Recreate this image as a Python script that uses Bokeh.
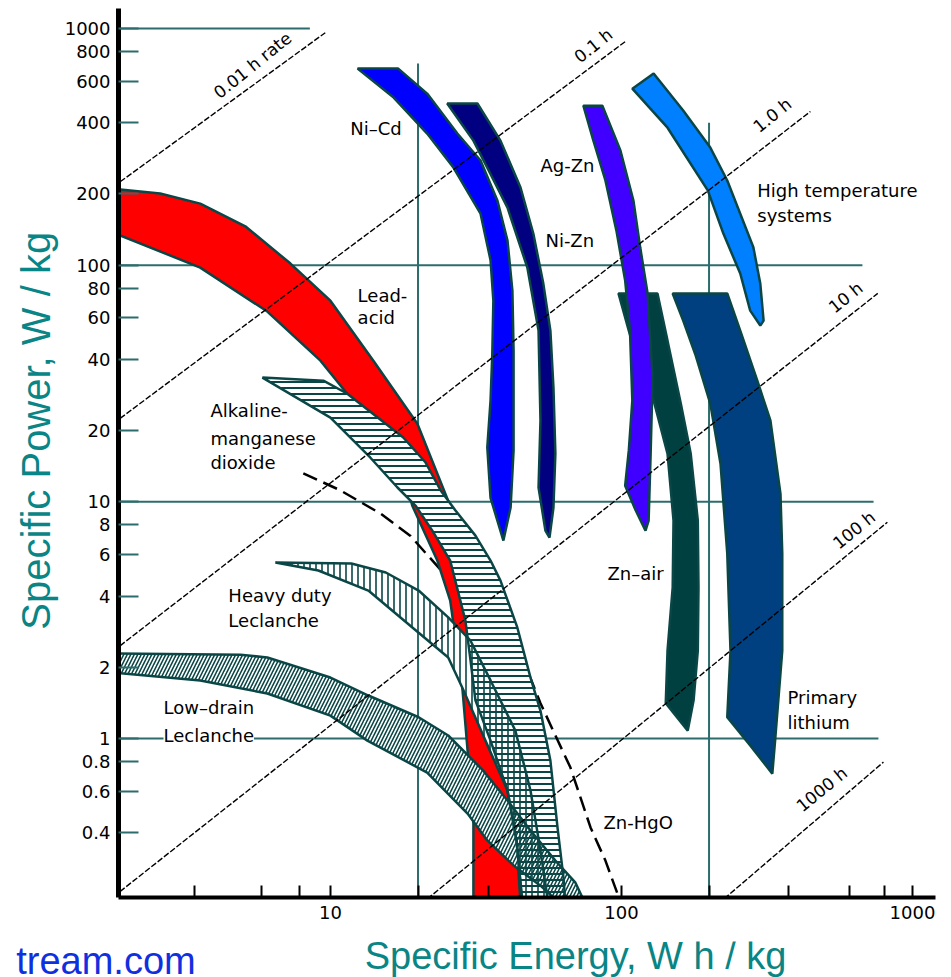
from bokeh.plotting import figure
from bokeh.layouts import column
from bokeh.models import Range1d, FixedTicker, CustomJSTickFormatter, Label, ColumnDataSource
from bokeh.core.properties import value
from bokeh.embed import file_html
from bokeh.resources import INLINE

# ---------------- axis ticks ----------------
y_ticks = [0.4, 0.6, 0.8, 1, 2, 4, 6, 8, 10, 20, 40, 60, 80, 100, 200, 400, 600, 800, 1000]
x_ticks = [3.4, 5.8, 7.8, 10, 20, 35, 100, 200, 375, 610, 800, 1000]
x_tick_labels = [10, 100, 1000]

# ---------------- bands: specific energy (Wh/kg), specific power (W/kg) ----------------
lead_acid_E = [1.8, 2.60, 3.57, 5.10, 7.29, 10.0, 14.05, 19.9, 25.4, 29.1, 32.8, 36.0, 40.6, 43.6, 45.0,
               31.0, 31.0, 29.8, 28.4, 25.8, 23.3, 19.1, 17.4, 14.85, 11.4, 9.24, 6.07, 3.57, 1.8]
lead_acid_P = [210, 201, 182, 146, 101.6, 70.8, 39.5, 21.4, 10.1, 5.65, 2.59, 1.11, 0.603, 0.371, 0.2,
               0.2, 0.4375, 0.807, 1.64, 3.83, 5.65, 9.65, 14.9, 21.0, 28.7, 39.5, 63.7, 97.7, 137]

alkaline_E = [5.84, 9.46, 11.4, 17.8, 21.2, 23.9, 26.9, 31.5, 35.5, 38.4, 43.9, 48.7, 52.7, 57.0, 60.3, 63.2, 64.2,
              45.7, 43.6, 40.6, 35.5, 31.5, 30.3, 29.1, 25.8, 22.4, 19.6, 17.0, 13.7, 10.0]
alkaline_P = [33.5, 32.5, 28.7, 18.7, 14.7, 11.2, 9.19, 7.20, 5.65, 4.65, 2.94, 1.81, 1.31, 0.807, 0.421, 0.259, 0.2,
              0.2, 0.371, 0.603, 0.98, 1.45, 2.14, 3.15, 5.65, 7.56, 9.65, 11.5, 15.4, 22.7]

heavy_E = [6.47, 11.8, 15.5, 20.1, 25.4, 30.3, 35.5, 43.2, 48.7, 52.7, 56.1,
           45.7, 43.6, 40.6, 34.1, 28.4, 25.4, 20.1, 13.5, 9.09]
heavy_P = [5.54, 5.49, 5.03, 4.22, 3.25, 2.59, 1.76, 1.08, 0.603, 0.336, 0.2,
           0.2, 0.371, 0.603, 0.98, 1.64, 2.20, 2.80, 4.22, 5.13]

lowdrain_E = [1.8, 4.91, 6.07, 10.0, 13.5, 20.1, 25.4, 33.5, 40.6, 48.7, 59.3, 69.5, 75.2,
              61.7, 52.7, 42.6, 34.6, 29.6, 21.5, 13.4, 10.0, 6.07, 3.57, 1.8]
lowdrain_P = [2.29, 2.26, 2.20, 1.81, 1.52, 1.23, 1.03, 0.732, 0.547, 0.409, 0.305, 0.246, 0.2,
              0.2, 0.239, 0.291, 0.371, 0.482, 0.718, 0.98, 1.25, 1.55, 1.76, 1.90]

nicd_E = [12.4, 17.1, 21.5, 27.3, 32.8, 37.5, 40.6, 42.2, 42.6, 42.6, 41.6, 39.3,
          35.5, 34.6, 35.5, 36.0, 36.3, 35.5, 32.8, 26.5, 21.5, 16.5]
nicd_P = [677, 677, 531, 360, 277, 187, 127, 78.1, 43.6, 16.5, 9.46, 6.86,
          10.4, 17.0, 26.8, 42.3, 70.8, 105, 165, 258, 360, 511]

nizn_E = [25.2, 32.0, 38.4, 45.0, 49.8, 53.9, 57.0, 58.4, 59.3, 58.4, 56.6,
          54.8, 51.9, 52.7, 51.9, 47.5, 40.6, 34.6, 31.0]
nizn_P = [482, 482, 336, 213, 136, 83.6, 52.9, 30.4, 16.0, 9.46, 7.07,
          7.56, 11.5, 22.1, 52.9, 97.7, 175, 258, 336]

agzn_E = [74.0, 86.0, 99.2, 110, 116, 123, 128, 126, 124, 121,
          112, 103, 106, 109, 107, 103, 96.1, 88.1, 80.1]
agzn_P = [472, 472, 305, 187, 119, 75.9, 33.5, 16.0, 8.34, 7.56,
          9.19, 11.7, 16.5, 26.8, 52.9, 86.1, 140, 228, 336]

hightemp_E = [109, 129, 163, 202, 231, 256, 284, 300, 308, 300, 277, 256, 224, 198, 144]
hightemp_P = [557, 645, 450, 314, 228, 165, 119, 83.6, 58.3, 55.6, 64.3, 92.2, 136, 207, 381]

znair_E = [97.7, 133, 144, 160, 173, 183, 184, 183, 177, 169,
           142, 144, 150, 151, 144, 129, 116, 106]
znair_P = [75.9, 75.9, 48.0, 26.0, 16.0, 8.34, 4.34, 2.35, 1.45, 1.08,
           1.41, 2.35, 4.34, 8.34, 16.0, 26.8, 35.9, 52.9]

lithium_E = [150, 231, 256, 293, 325, 352, 357, 357, 346, 338, 330,
             277, 231, 237, 231, 219, 202, 180, 163]
lithium_P = [75.9, 75.9, 52.9, 32.5, 22.1, 10.8, 6.05, 2.35, 1.45, 1.01, 0.711,
             0.934, 1.23, 2.35, 6.05, 14.5, 26.0, 41.5, 58.3]

znhgo_E = [8.07, 10.8, 14.85, 18.8, 25.8, 38.4, 46.8, 52.7, 59.3, 66.8, 78.3, 88.1, 96.9]
znhgo_P = [13.2, 11.2, 8.93, 7.20, 4.65, 2.72, 2.03, 1.41, 1.03, 0.754, 0.421, 0.305, 0.221]

# ---------------- reference lines ----------------
hgrid_P = [1000, 100, 10, 1]
hgrid_E0 = [1.8, 1.8, 1.8, 1.8]
hgrid_E1 = [8.5, 673, 735, 764]
vgrid_E = [20, 200]
vgrid_P0 = [0.2, 0.2]
vgrid_P1 = [711, 400]

rate_labels = ["0.01 h rate", "0.1 h", "1.0 h", "10 h", "100 h", "1000 h"]
rate_E0 = [1.8, 1.8, 1.8, 1.8, 20.5, 215]
rate_P0 = [215, 21.5, 2.35, 0.215, 0.2, 0.2]
rate_E1 = [9.6, 103, 446, 760, 820, 795]
rate_P1 = [960, 880, 446, 76, 8.2, 0.795]
rate_label_E = [5.4, 80.1, 330, 590, 630, 488]
rate_label_P = [700, 847, 430, 73, 7.6, 0.61]

band_texts = ["Ni–Cd", "Ag-Zn", "Ni-Zn", "Lead-", "acid", "High temperature", "systems",
              "Alkaline-", "manganese", "dioxide", "Heavy duty", "Leclanche", "Low–drain",
              "Zn–air", "Primary", "lithium", "Zn-HgO"]
band_text_E = [11.7, 52.7, 54.8, 12.4, 12.4, 293, 293, 3.87, 3.87, 3.87, 4.46, 4.46, 2.67,
               89.5, 372, 372, 86.8]
band_text_P = [378, 264, 127, 74.4, 60.1, 207, 162, 24.3, 18.5, 14.7, 4.02, 3.15, 1.35,
               4.98, 1.49, 1.17, 0.442]

x_title = "Specific Energy, W h / kg"
y_title = "Specific Power, W / kg"
footer_text = "tream.com"

OUT = "#0b4646"
GRID = "#2c6c6c"
TEAL = "#0a8585"

p = figure(width=943, height=941, x_axis_type="log", y_axis_type="log",
           x_range=Range1d(1.87, 1200), y_range=Range1d(0.213, 1215),
           output_backend="svg", toolbar_location=None,
           min_border_left=118, min_border_right=8, min_border_top=8, min_border_bottom=44)
p.outline_line_color = None
p.xgrid.visible = False
p.ygrid.visible = False

# axes
p.yaxis.ticker = FixedTicker(ticks=y_ticks)
p.yaxis.formatter = CustomJSTickFormatter(code="return String(tick)")
p.yaxis.major_tick_in = 20
p.yaxis.major_tick_out = 0
p.yaxis.major_tick_line_color = GRID
p.yaxis.major_tick_line_width = 2
p.yaxis.minor_tick_line_color = None
p.yaxis.axis_line_width = 5
p.yaxis.axis_line_color = "black"
p.yaxis.major_label_text_font = "DejaVu Sans"
p.yaxis.major_label_text_font_size = "18px"
p.yaxis.major_label_text_color = "black"
p.yaxis.major_label_standoff = 8
p.yaxis.axis_label = "\u00a0\u00a0\u00a0\u00a0" + y_title
p.yaxis.axis_label_text_font = "Liberation Sans"
p.yaxis.axis_label_text_font_size = "40px"
p.yaxis.axis_label_text_font_style = "normal"
p.yaxis.axis_label_text_color = TEAL
p.yaxis.axis_label_standoff = 4

p.xaxis.ticker = FixedTicker(ticks=x_ticks)
p.xaxis.formatter = CustomJSTickFormatter(args=dict(show=x_tick_labels),
                                          code="return show.includes(tick) ? String(tick) : ''")
p.xaxis.major_tick_in = 12
p.xaxis.major_tick_out = 0
p.xaxis.major_tick_line_color = "black"
p.xaxis.major_tick_line_width = 2
p.xaxis.minor_tick_line_color = None
p.xaxis.axis_line_width = 4
p.xaxis.axis_line_color = "black"
p.xaxis.major_label_text_font = "DejaVu Sans"
p.xaxis.major_label_text_font_size = "18px"
p.xaxis.major_label_text_color = "black"
p.xaxis.major_label_standoff = 8

# grid lines
p.segment(x0=hgrid_E0, y0=hgrid_P, x1=hgrid_E1, y1=hgrid_P, line_color=GRID, line_width=2)
p.segment(x0=vgrid_E, y0=vgrid_P0, x1=vgrid_E, y1=vgrid_P1, line_color=GRID, line_width=2)

# Zn-HgO dashed curve
p.line(znhgo_E, znhgo_P, line_color="black", line_width=2.5, line_dash="15 7")

# lead-acid
p.patch(lead_acid_E, lead_acid_P, fill_color="#ff0000", line_color=OUT, line_width=2.5)

# hatched bands: white fill first, then hatch + outline
hatched = [
    (alkaline_E, alkaline_P, "horizontal_line", 6, 2),
    (heavy_E, heavy_P, "vertical_line", 6, 1.6),
    (lowdrain_E, lowdrain_P, "right_diagonal_line", 7, 1.6),
]
for E, P, pat, sc, w in hatched:
    p.patch(E, P, fill_color="white", line_color=None)
for E, P, pat, sc, w in hatched:
    p.patch(E, P, fill_color=None, line_color=OUT, line_width=2.5,
            hatch_pattern=pat, hatch_color=OUT, hatch_scale=sc, hatch_weight=w)

# solid bands
solid = [
    (nicd_E, nicd_P, "#0000ff"),
    (nizn_E, nizn_P, "#000080"),
    (hightemp_E, hightemp_P, "#0080ff"),
    (znair_E, znair_P, "#004040"),
    (lithium_E, lithium_P, "#003f80"),
    (agzn_E, agzn_P, "#4000ff"),
]
for E, P, c in solid:
    p.patch(E, P, fill_color=c, line_color=OUT, line_width=2.5)

# constant discharge-time lines
p.segment(x0=rate_E0, y0=rate_P0, x1=rate_E1, y1=rate_P1, line_color="black", line_width=1.4,
          line_dash="6 2")
rate_src = ColumnDataSource(dict(x=rate_label_E, y=rate_label_P, t=rate_labels))
p.text(x="x", y="y", text="t", source=rate_src, angle=0.68, text_font=value("DejaVu Sans"),
       text_font_size="17px", text_color="black", text_align="center", text_baseline="middle")

# band labels
lab_src = ColumnDataSource(dict(x=band_text_E, y=band_text_P, t=band_texts))
p.text(x="x", y="y", text="t", source=lab_src, text_font=value("DejaVu Sans"),
       text_font_size="18px", text_color="black", text_align="left", text_baseline="middle")
p.add_layout(Label(x=2.67, y=1.03, text="Leclanche", text_font="DejaVu Sans",
                   text_font_size="18px", text_color="black", text_baseline="middle",
                   background_fill_color="white"))

# bottom strip: x-axis title and footer text, on the same log energy scale
p2 = figure(width=943, height=36, x_axis_type="log", x_range=Range1d(0.734, 1278),
            y_range=Range1d(0, 36), output_backend="svg", toolbar_location=None,
            x_axis_location=None, y_axis_location=None, min_border=0,
            min_border_left=0, min_border_right=0, min_border_top=0, min_border_bottom=0)
try:
    p2.frame_align = False
except Exception:
    pass
p2.outline_line_color = None
p2.xgrid.visible = False
p2.ygrid.visible = False
p2.text(x=[69.5], y=[22], text=[x_title], text_font=value("Liberation Sans"), text_font_size="38px",
        text_color=TEAL, text_align="center", text_baseline="alphabetic")
p2.text(x=[3.44], y=[17], text=[footer_text], text_font=value("Liberation Sans"), text_font_size="38px",
        text_color="#1030e0", text_align="right", text_baseline="alphabetic")

layout = column(p, p2, spacing=0)
open("out.html", "w").write(file_html(layout, INLINE))
